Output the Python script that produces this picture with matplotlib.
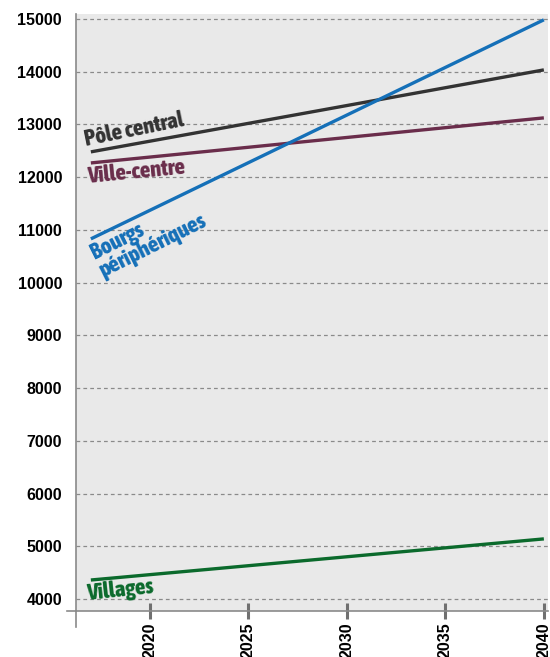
import matplotlib
matplotlib.use("Agg")
import matplotlib.pyplot as plt
from matplotlib import font_manager as fm

years = [2017, 2040]
pole_central = [12480, 14035]
ville_centre = [12270, 13125]
bourgs = [10830, 14985]
villages = [4360, 5140]

series_names = ["Pôle central", "Ville-centre", "Bourgs\npériphériques", "Villages"]
colors = ["#333333", "#6a2d4b", "#1570b8", "#0b6a2c"]

y_ticks = list(range(4000, 15001, 1000))
x_ticks = [2020, 2025, 2030, 2035, 2040]

# find a heavy, upright condensed font if available
cands = []
for f in fm.fontManager.ttflist:
    nm = f.name.lower()
    st = str(f.stretch).lower()
    if f.style != "normal":
        continue
    if "narrow" in nm or "condensed" in nm or "condensed" in st or "narrow" in st:
        w = f.weight if isinstance(f.weight, int) else fm.weight_dict.get(str(f.weight).lower(), 400)
        if 700 <= w <= 800:
            cands.append((w, f.name, f.fname))
cands.sort(key=lambda t: (-t[0], t[1]))
cond_path = cands[0][2] if cands else None

fig = plt.figure(figsize=(5.5, 6.57), dpi=100)
ax = fig.add_axes([0.138, 0.070, 0.858, 0.9087])
ax.set_facecolor("#e9e9e9")

for vals, c in zip([pole_central, ville_centre, bourgs, villages], colors):
    ax.plot(years, vals, color=c, lw=2.4, solid_capstyle="butt", zorder=3)

ax.set_xlim(2016.24, 2040.2)
ax.set_ylim(3772, 15095)

for v in y_ticks:
    ax.axhline(v, color="#8a8a8a", lw=0.9, ls=(0, (3, 2.5)), zorder=1)

ax.set_yticks(y_ticks)
ax.set_yticklabels([str(v) for v in y_ticks], fontsize=11.5, fontweight="bold", family="Liberation Sans")
ax.tick_params(axis="y", length=0, pad=10)
ax.set_xticks(x_ticks)
ax.set_xticklabels([str(v) for v in x_ticks], rotation=90, fontsize=11.5, fontweight="bold", family="Liberation Sans")
ax.tick_params(axis="x", length=12, width=2.2, color="#707070", direction="inout", pad=2)

for s in ["top", "right"]:
    ax.spines[s].set_visible(False)
ax.spines["left"].set_color("#8a8a8a")
ax.spines["bottom"].set_color("#8a8a8a")
ax.spines["left"].set_linewidth(1.2)
ax.spines["bottom"].set_linewidth(1.2)
ax.plot([-0.019, 0], [0, 0], transform=ax.transAxes, color="#8a8a8a", lw=1.2, clip_on=False)
ax.plot([0, 0], [0, -0.026], transform=ax.transAxes, color="#8a8a8a", lw=1.2, clip_on=False)

if cond_path:
    fp = fm.FontProperties(fname=cond_path, size=16.3)
else:
    fp = fm.FontProperties(family="DejaVu Sans", size=13, weight="bold", stretch="condensed")
lab_kw = dict(fontproperties=fp, rotation_mode="anchor", ha="left", zorder=4)
ax.text(2016.75, 12600, series_names[0], color=colors[0], rotation=11.5, va="baseline", **lab_kw)
ax.text(2016.85, 11890, series_names[1], color=colors[1], rotation=5.5, va="baseline", **lab_kw)
ax.text(2016.8, 10730, series_names[2], color=colors[2], rotation=26.5, va="top", linespacing=0.9, **lab_kw)
ax.text(2016.85, 3975, series_names[3], color=colors[3], rotation=6, va="baseline", **lab_kw)

fig.savefig("out.png", dpi=100)
